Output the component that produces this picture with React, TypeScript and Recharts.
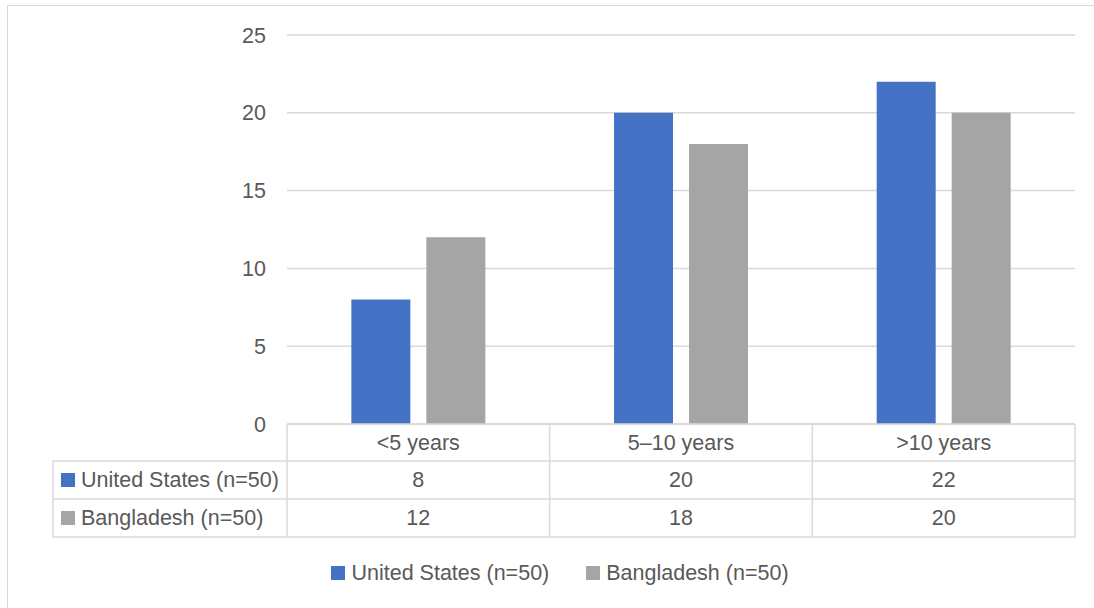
import React from 'react';
import { BarChart, Bar, XAxis, YAxis, CartesianGrid, Legend } from 'recharts';

const categories = ['<5 years', '5–10 years', '>10 years'];
const usValues = [8, 20, 22];
const bdValues = [12, 18, 20];
const seriesNames = ['United States (n=50)', 'Bangladesh (n=50)'];
const seriesKeys = ['us', 'bd'];
const seriesColors = ['#4472C4', '#A5A5A5'];
const yTicks = [0, 5, 10, 15, 20, 25];

const data = categories.map((c, i) => ({ category: c, us: usValues[i], bd: bdValues[i] }));
const seriesValues = [usValues, bdValues];

const W = 1094;
const H = 608;
const MARGIN = { top: 35, right: 19, left: 0, bottom: 23 };
const YAXIS_W = 287;
const XAXIS_H = 137;
const LEGEND_H = 24;
const PLOT_LEFT = MARGIN.left + YAXIS_W;
const PLOT_W = W - PLOT_LEFT - MARGIN.right;
const PLOT_BOTTOM = H - MARGIN.bottom - LEGEND_H - XAXIS_H;
const BAND = PLOT_W / categories.length;
const ROW_OFFSETS = [0, 37, 75, 113];
const TABLE_LEFT = 53;

const FONT = '"Liberation Sans", Arial, sans-serif';
const FONT_SIZE = 21.5;
const TEXT_COLOR = '#595959';
const LINE_COLOR = '#D9D9D9';

function TableTick(props: any) {
  const { x, payload, index } = props;
  const top = PLOT_BOTTOM;
  const left = x - BAND / 2;
  const right = x + BAND / 2;
  const rowCenter = (r: number) => top + (ROW_OFFSETS[r] + ROW_OFFSETS[r + 1]) / 2;
  const i = typeof index === 'number' ? index : payload.index;
  return (
    <g>
      <line x1={left} x2={left} y1={top} y2={top + ROW_OFFSETS[3]} stroke={LINE_COLOR} strokeWidth={1.5} />
      {i === categories.length - 1 && (
        <line x1={right} x2={right} y1={top} y2={top + ROW_OFFSETS[3]} stroke={LINE_COLOR} strokeWidth={1.5} />
      )}
      {ROW_OFFSETS.map((o, k) => (
        <line key={k} x1={left} x2={right} y1={top + o} y2={top + o} stroke={LINE_COLOR} strokeWidth={1.5} />
      ))}
      <text x={x} y={rowCenter(0)} textAnchor="middle" dominantBaseline="central" fill={TEXT_COLOR} fontFamily={FONT} fontSize={FONT_SIZE}>
        {payload.value}
      </text>
      {seriesValues.map((vals, s) => (
        <text key={s} x={x} y={rowCenter(s + 1)} textAnchor="middle" dominantBaseline="central" fill={TEXT_COLOR} fontFamily={FONT} fontSize={FONT_SIZE}>
          {vals[i]}
        </text>
      ))}
      {i === 0 && (
        <g>
          <line x1={TABLE_LEFT} x2={TABLE_LEFT} y1={top + ROW_OFFSETS[1]} y2={top + ROW_OFFSETS[3]} stroke={LINE_COLOR} strokeWidth={1.5} />
          {ROW_OFFSETS.slice(1).map((o, k) => (
            <line key={k} x1={TABLE_LEFT} x2={left} y1={top + o} y2={top + o} stroke={LINE_COLOR} strokeWidth={1.5} />
          ))}
          {seriesNames.map((n, s) => (
            <g key={n}>
              <rect x={61} y={rowCenter(s + 1) - 7} width={14} height={14} fill={seriesColors[s]} />
              <text x={81} y={rowCenter(s + 1)} dominantBaseline="central" fill={TEXT_COLOR} fontFamily={FONT} fontSize={FONT_SIZE}>
                {n}
              </text>
            </g>
          ))}
        </g>
      )}
    </g>
  );
}

function LegendContent() {
  return (
    <div
      style={{
        display: 'flex',
        justifyContent: 'center',
        alignItems: 'center',
        height: LEGEND_H,
        gap: 37,
        fontFamily: FONT,
        fontSize: FONT_SIZE,
        color: TEXT_COLOR,
      }}
    >
      {seriesNames.map((n, s) => (
        <div key={n} style={{ display: 'flex', alignItems: 'center', whiteSpace: 'nowrap' }}>
          <span style={{ display: 'inline-block', width: 14, height: 14, background: seriesColors[s], marginRight: 6 }} />
          <span>{n}</span>
        </div>
      ))}
    </div>
  );
}

export default function App() {
  return (
    <div style={{ position: 'absolute', left: 0, top: 0, width: W, height: H, overflow: 'hidden', background: '#fff' }}>
      <div
        style={{
          position: 'absolute',
          left: 7,
          top: 5,
          width: 1130,
          height: 650,
          border: `1.5px solid ${LINE_COLOR}`,
        }}
      />
      <div style={{ position: 'absolute', left: 0, top: 0 }}>
        <BarChart
          width={W}
          height={H}
          data={data}
          margin={MARGIN}
          barCategoryGap="24.5%"
          barGap={16}
        >
          <CartesianGrid vertical={false} stroke={LINE_COLOR} strokeWidth={1.5} />
          <XAxis
            dataKey="category"
            height={XAXIS_H}
            axisLine={false}
            tickLine={false}
            tickSize={0}
            tickMargin={0}
            interval={0}
            tick={<TableTick />}
          />
          <YAxis
            width={YAXIS_W}
            domain={[0, 25]}
            ticks={yTicks}
            axisLine={false}
            tickLine={false}
            tickSize={0}
            tickMargin={21}
            tick={{ fill: TEXT_COLOR, fontFamily: FONT, fontSize: FONT_SIZE }}
          />
          <Legend
            verticalAlign="bottom"
            height={LEGEND_H}
            wrapperStyle={{ left: 0, width: 1120 }}
            content={<LegendContent />}
          />
          {seriesKeys.map((k, s) => (
            <Bar key={k} dataKey={k} name={seriesNames[s]} fill={seriesColors[s]} isAnimationActive={false} />
          ))}
        </BarChart>
      </div>
    </div>
  );
}
